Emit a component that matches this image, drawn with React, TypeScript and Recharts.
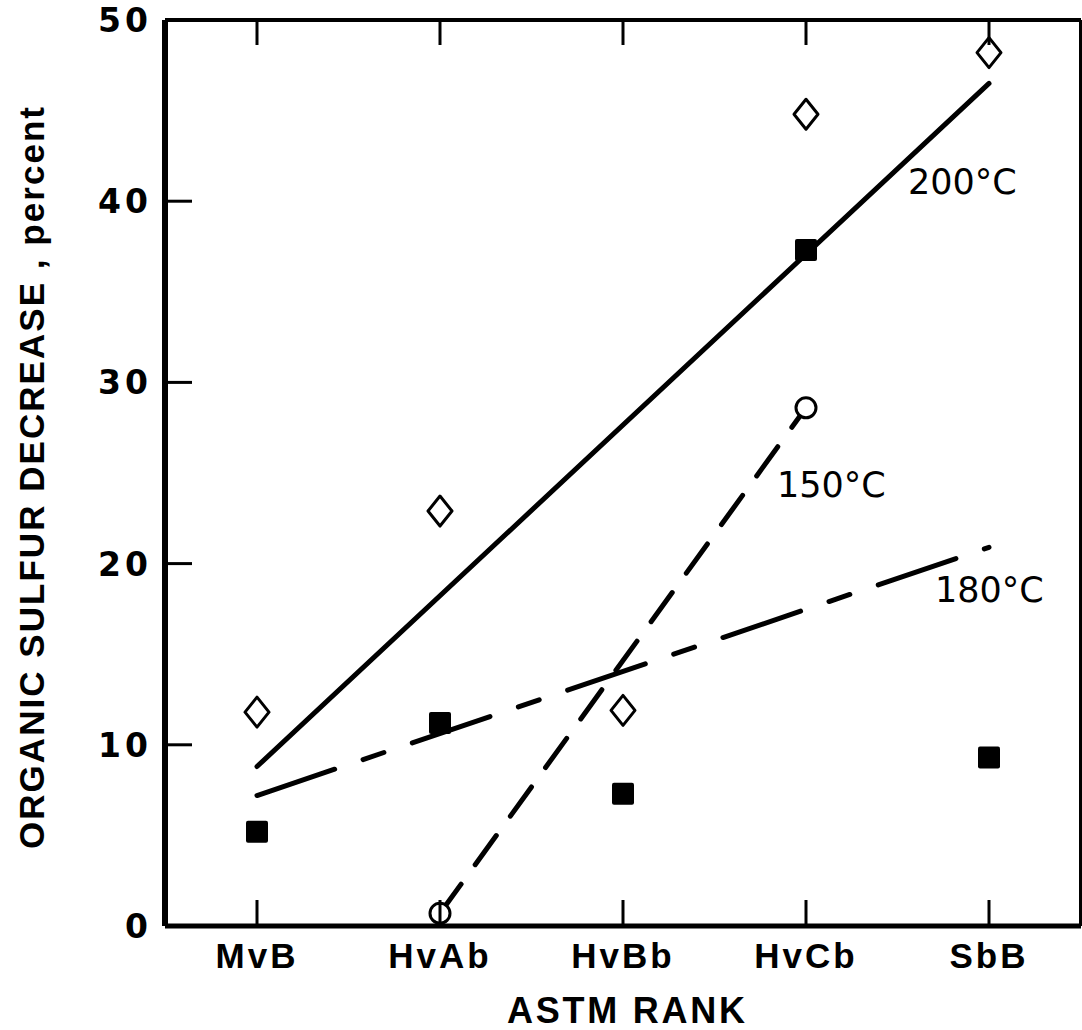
import React from 'react';
import { ComposedChart, Line, XAxis, YAxis, ReferenceDot } from 'recharts';

const ranks = ['MvB', 'HvAb', 'HvBb', 'HvCb', 'SbB'];
const diamondVals = [11.8, 22.9, 11.9, 44.8, 48.2];
const squareVals = [5.2, 11.2, 7.3, 37.3, 9.3];
const circleVals = [null, 0.7, null, 28.6, null];
const fit200 = [8.8, null, null, null, 46.5];
const fit180 = [7.2, null, null, null, 20.9];
const fit150 = [null, 0.7, null, 28.6, null];
const yTicks = [0, 10, 20, 30, 40, 50];

const notes = [
  { text: '200°C', rank: 'SbB', value: 40.4 },
  { text: '150°C', rank: 'HvCb', value: 23.7 },
  { text: '180°C', rank: 'SbB', value: 17.9 },
];
const noteDx: Record<string, number> = { '200°C': -81, '150°C': -29, '180°C': -54 };

const data = ranks.map((rank, i) => ({
  rank,
  diamond: diamondVals[i],
  square: squareVals[i],
  circle: circleVals[i],
  f200: fit200[i],
  f180: fit180[i],
  f150: fit150[i],
}));

const W = 1082;
const H = 1030;
const sans = '"DejaVu Sans", sans-serif';
const bold = '"Liberation Sans", Arial, sans-serif';
const catPad = { left: 92, right: 92 };

const Diamond = (p: any) => {
  const { cx, cy, value, index } = p;
  if (value == null || cy == null) return <g key={`d${index}`} />;
  return (
    <path
      key={`d${index}`}
      d={`M${cx},${cy - 15} L${cx + 12},${cy} L${cx},${cy + 15} L${cx - 12},${cy} Z`}
      fill="#fff"
      stroke="#000"
      strokeWidth={3}
      strokeLinejoin="round"
    />
  );
};

const Square = (p: any) => {
  const { cx, cy, value, index } = p;
  if (value == null || cy == null) return <g key={`s${index}`} />;
  return <rect key={`s${index}`} x={cx - 11} y={cy - 11} width={22} height={22} rx={2} fill="#000" />;
};

const Circle = (p: any) => {
  const { cx, cy, value, index } = p;
  if (value == null || cy == null) return <g key={`c${index}`} />;
  return <circle key={`c${index}`} cx={cx} cy={cy} r={10} fill="#fff" stroke="#000" strokeWidth={3} />;
};

const LeftTick = (p: any) => {
  const { x, y, payload } = p;
  const v = payload.value;
  return (
    <g>
      {v > 0 && v < 50 && <line x1={x} y1={y} x2={x + 27} y2={y} stroke="#000" strokeWidth={3} />}
      <text x={x - 13} y={y} dy={12} textAnchor="end" fontFamily={sans} fontWeight="bold" fontSize={33} letterSpacing={4} fill="#000">
        {v}
      </text>
    </g>
  );
};

const RightTick = (p: any) => {
  const { x, y, payload } = p;
  const v = payload.value;
  if (v <= 0 || v >= 50) return <g />;
  return <line x1={x} y1={y} x2={x - 24} y2={y} stroke="#000" strokeWidth={3} />;
};

const BottomTick = (p: any) => {
  const { x, y, payload } = p;
  return (
    <g>
      <line x1={x} y1={y} x2={x} y2={y - 26} stroke="#000" strokeWidth={3} />
      <text x={x} y={y + 42} textAnchor="middle" fontFamily={bold} fontWeight="bold" fontSize={35} letterSpacing={3} fill="#000">
        {payload.value}
      </text>
    </g>
  );
};

const TopTick = (p: any) => {
  const { x, y } = p;
  return <line x1={x} y1={y} x2={x} y2={y + 25} stroke="#000" strokeWidth={3} />;
};

export default function App() {
  return (
    <div style={{ position: 'absolute', left: 0, top: 0, width: W, height: H, background: '#fff' }}>
      <ComposedChart width={W} height={H} data={data} margin={{ top: 0, right: 0, left: 0, bottom: 0 }}>
        <XAxis
          xAxisId="top"
          orientation="top"
          dataKey="rank"
          height={20}
          padding={catPad}
          interval={0}
          tickSize={0}
          tickMargin={0}
          tickLine={false}
          tick={<TopTick />}
          axisLine={{ stroke: '#000', strokeWidth: 4 }}
        />
        <XAxis
          xAxisId="bottom"
          dataKey="rank"
          height={104}
          padding={catPad}
          interval={0}
          tickSize={0}
          tickMargin={0}
          tickLine={false}
          tick={<BottomTick />}
          axisLine={{ stroke: '#000', strokeWidth: 5 }}
          label={{
            content: (lp: any) => {
              const vb = lp.viewBox;
              return (
                <text
                  x={vb.x + vb.width / 2 + 3}
                  y={vb.y + 97}
                  textAnchor="middle"
                  fontFamily={bold}
                  fontWeight="bold"
                  fontSize={36}
                  textLength={238}
                  lengthAdjust="spacing"
                  fill="#000"
                >
                  ASTM RANK
                </text>
              );
            },
          }}
        />
        <YAxis
          yAxisId="left"
          width={165}
          domain={[0, 50]}
          ticks={yTicks}
          interval={0}
          tickSize={0}
          tickMargin={0}
          tickLine={false}
          tick={<LeftTick />}
          axisLine={{ stroke: '#000', strokeWidth: 6 }}
          label={{
            content: (lp: any) => {
              const vb = lp.viewBox;
              const cy = vb.y + vb.height / 2 + 5;
              return (
                <text
                  x={44}
                  y={cy}
                  transform={`rotate(-90, 44, ${cy})`}
                  textAnchor="middle"
                  fontFamily={bold}
                  fontWeight="bold"
                  fontSize={35}
                  textLength={742}
                  lengthAdjust="spacing"
                  fill="#000"
                >
                  ORGANIC SULFUR DECREASE , percent
                </text>
              );
            },
          }}
        />
        <YAxis
          yAxisId="right"
          orientation="right"
          width={1}
          domain={[0, 50]}
          ticks={yTicks}
          interval={0}
          tickSize={0}
          tickMargin={0}
          tickLine={false}
          tick={<RightTick />}
          axisLine={{ stroke: '#000', strokeWidth: 4 }}
        />

        <Line
          xAxisId="bottom"
          yAxisId="left"
          dataKey="f200"
          connectNulls
          stroke="#000"
          strokeWidth={5}
          strokeLinecap="round"
          dot={false}
          activeDot={false}
          isAnimationActive={false}
        />
        <Line
          xAxisId="bottom"
          yAxisId="left"
          dataKey="f180"
          connectNulls
          stroke="#000"
          strokeWidth={5}
          strokeLinecap="round"
          strokeDasharray="82 30 22 30"
          dot={false}
          activeDot={false}
          isAnimationActive={false}
        />
        <Line
          xAxisId="bottom"
          yAxisId="left"
          dataKey="f150"
          connectNulls
          stroke="#000"
          strokeWidth={5}
          strokeLinecap="round"
          strokeDasharray="36 24"
          dot={false}
          activeDot={false}
          isAnimationActive={false}
        />

        <Line xAxisId="bottom" yAxisId="left" dataKey="diamond" stroke="none" dot={Diamond} activeDot={false} isAnimationActive={false} />
        <Line xAxisId="bottom" yAxisId="left" dataKey="square" stroke="none" dot={Square} activeDot={false} isAnimationActive={false} />
        <Line xAxisId="bottom" yAxisId="left" dataKey="circle" stroke="none" dot={Circle} activeDot={false} isAnimationActive={false} />

        {notes.map((n) => (
          <ReferenceDot
            key={n.text}
            xAxisId="bottom"
            yAxisId="left"
            x={n.rank}
            y={n.value}
            r={0}
            fill="none"
            stroke="none"
            label={{
              content: (lp: any) => {
                const vb = lp.viewBox;
                return (
                  <text x={vb.x + noteDx[n.text]} y={vb.y} fontFamily={sans} fontSize={35} fill="#000">
                    {n.text}
                  </text>
                );
              },
            }}
          />
        ))}
      </ComposedChart>
    </div>
  );
}
